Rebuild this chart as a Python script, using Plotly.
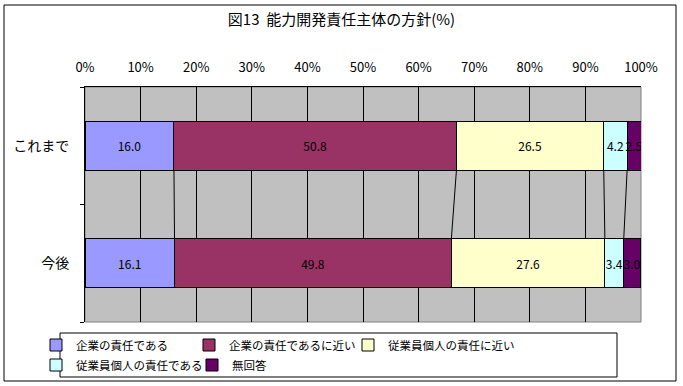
import plotly.graph_objects as go

categories = ["これまで", "今後"]
series_names = ["企業の責任である", "企業の責任であるに近い", "従業員個人の責任に近い", "従業員個人の責任である", "無回答"]
values_korekara = [16.0, 50.8, 26.5, 4.2, 2.5]
values_kongo = [16.1, 49.8, 27.6, 3.4, 3.0]
colors = ["#9999FF", "#993366", "#FFFFCC", "#CCFFFF", "#660066"]
x_ticks = [0, 10, 20, 30, 40, 50, 60, 70, 80, 90, 100]
x_ticktext = [f"{v}%" for v in x_ticks]

FONT = "Noto Sans CJK JP"
BAR_W = 0.42
ypos = list(range(len(categories)))

# plot area in pixels
L, R, T, B = 85, 641, 87, 322
PW, PH = R - L, B - T

def px_x(p):
    return (p - L) / PW

def px_y(p):
    return (B - p) / PH

# legend entry text start positions (px) for the Excel-style flowing legend
legend_text_x = [76, 229, 388, 76, 232]
legend_row_y = [345, 345, 345, 365, 365]

fig = go.Figure()
for i, name in enumerate(series_names):
    fig.add_trace(go.Bar(
        y=ypos, x=[values_korekara[i], values_kongo[i]], name=name, orientation="h",
        width=BAR_W, marker=dict(color=colors[i], line=dict(color="black", width=1)),
        texttemplate="%{x:.1f}", textposition="inside", insidetextanchor="middle",
        textangle=0, textfont=dict(color="black", size=12, family=FONT),
        hoverinfo="x+name",
        legend="legend" if i == 0 else f"legend{i + 1}",
    ))

# series lines connecting cumulative boundaries
cum1, cum2 = 0.0, 0.0
for i in range(len(series_names) - 1):
    cum1 += values_korekara[i]
    cum2 += values_kongo[i]
    fig.add_trace(go.Scatter(
        x=[cum1, cum2], y=[ypos[0] + BAR_W / 2, ypos[1] - BAR_W / 2],
        mode="lines", line=dict(color="black", width=1),
        showlegend=False, hoverinfo="skip",
    ))

legend_common = dict(orientation="h", xanchor="left", yanchor="middle",
                     borderwidth=0, bgcolor="rgba(0,0,0,0)",
                     font=dict(size=11.5, family=FONT), itemwidth=30,
                     traceorder="normal")
legends = {}
for i in range(len(series_names)):
    key = "legend" if i == 0 else f"legend{i + 1}"
    legends[key] = dict(x=px_x(legend_text_x[i] - 40), y=px_y(legend_row_y[i]), **legend_common)

fig.update_layout(
    barmode="stack",
    width=683, height=386,
    margin=dict(l=L, r=683 - R, t=T, b=386 - B, autoexpand=False),
    paper_bgcolor="white", plot_bgcolor="#C0C0C0",
    font=dict(family=FONT, size=12, color="black"),
    title=dict(text="図13  能力開発責任主体の方針(%)", x=0.5, xanchor="center",
               y=1 - 20 / 386, yanchor="middle", font=dict(size=15, family=FONT)),
    showlegend=True,
    uniformtext=dict(minsize=12, mode="show"),
    shapes=[
        dict(type="rect", xref="paper", yref="paper", x0=0, x1=1, y0=0, y1=1,
             line=dict(color="#808080", width=1), fillcolor="#C0C0C0", layer="below"),
        dict(type="rect", xref="paper", yref="paper",
             x0=px_x(4), x1=px_x(676), y0=px_y(381), y1=px_y(5),
             line=dict(color="black", width=1), fillcolor="rgba(0,0,0,0)"),
        dict(type="rect", xref="paper", yref="paper",
             x0=px_x(60), x1=px_x(617), y0=px_y(377), y1=px_y(333),
             line=dict(color="black", width=1), fillcolor="rgba(0,0,0,0)"),
    ],
    **legends,
)
fig.update_xaxes(
    side="top", range=[0, 100], tickvals=x_ticks, ticktext=x_ticktext,
    showgrid=True, gridcolor="black", gridwidth=1,
    showline=True, linecolor="black", linewidth=1,
    ticks="", ticklen=0, ticklabelstandoff=9, tickfont=dict(size=13, family=FONT),
    zeroline=False, fixedrange=True, automargin=False,
)
fig.update_yaxes(
    range=[len(categories) - 0.5, -0.5], tickvals=ypos, ticktext=categories,
    showgrid=False, showline=True, linecolor="black", linewidth=1,
    ticks="", ticklabelstandoff=12, tickfont=dict(size=14, family=FONT),
    minor=dict(tickvals=[-0.5, 0.5, 1.5], ticks="outside", ticklen=4, tickcolor="black", showgrid=False),
    zeroline=False, fixedrange=True, automargin=False,
)

fig.write_html("out.html", config={"displayModeBar": False},
               post_script="document.body.style.margin='0';")
